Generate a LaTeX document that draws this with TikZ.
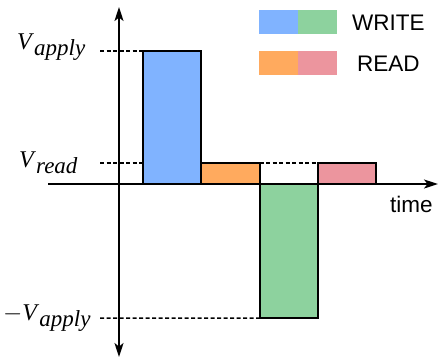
\documentclass[tikz,border=0pt]{standalone}
\usepackage{fontspec}
\setmainfont{Liberation Serif}
\setsansfont{Liberation Sans}
\usetikzlibrary{arrows.meta}
\definecolor{cblue}{HTML}{80B3FF}
\definecolor{cgreen}{HTML}{8DD29E}
\definecolor{corange}{HTML}{FFAA5E}
\definecolor{cpink}{HTML}{EC959E}
\newcommand\vlab[1]{\fontsize{24bp}{26bp}\selectfont\textit{V}\raisebox{-6.5bp}{\fontsize{23bp}{26bp}\selectfont\textit{#1}}}
\begin{document}
\begin{tikzpicture}[x=1bp,y=-1bp,
  pulse/.style={draw=black,line width=1.8bp,minimum width=58.3bp,anchor=north west,inner sep=0pt,outer sep=0pt},
  legbox/.style={minimum width=39bp,minimum height=24bp,anchor=north west,inner sep=0pt,outer sep=0pt},
  legtext/.style={font=\sffamily\fontsize{22.5bp}{27bp}\selectfont,anchor=west,inner sep=0pt},
  vlabel/.style={anchor=base west,inner sep=0pt},
  axis/.style={line width=1.8bp,{Stealth[length=14bp,width=9bp,inset=3.5bp]}-{Stealth[length=14bp,width=9bp,inset=3.5bp]}},
  haxis/.style={line width=1.8bp,-{Stealth[length=14bp,width=9bp,inset=3.5bp]}},
  level/.style={line width=1.5bp,dash pattern=on 4bp off 2.5bp}]
\useasboundingbox (0,0) rectangle (440,359);
% pulses
\node[pulse,fill=cblue,minimum height=133bp] (w1) at (143,51) {};
\node[pulse,fill=corange,minimum height=21bp] (r1) at (201.3,163) {};
\node[pulse,fill=cgreen,minimum height=134bp] (w2) at (259.6,184) {};
\node[pulse,fill=cpink,minimum height=21bp] (r2) at (318,163) {};
% axes
\coordinate (xl) at (48,184);
\coordinate (xr) at (438,184);
\coordinate (yb) at (119,357);
\coordinate (yt) at (119,7);
\draw[haxis] (xl) -- (xr);
\draw[axis] (yb) -- (yt);
\node[anchor=base west,inner sep=0pt,font=\sffamily\fontsize{22.5bp}{27bp}\selectfont] (time) at (390,212) {time};
% labels
\node[vlabel] (la) at (17,49) {\vlab{apply}};
\node[vlabel] (lr) at (19,167) {\vlab{read}};
\node[vlabel] (ln) at (3,320) {\fontsize{24bp}{26bp}\selectfont$-$\vlab{apply}};
% dashed levels
\coordinate (da) at (100,51);
\coordinate (dr) at (100,163);
\coordinate (dn) at (100,318);
\draw[level] (da) -- (w1.north west);
\draw[level] (dr) -- (w1.west |- dr);
\draw[level] (r1.north east) -- (r2.north west);
\draw[level] (dn) -- (w2.south west);
% legend
\node[legbox,fill=cblue] (lb) at (259,10) {};
\node[legbox,fill=cgreen] (lg) at (298,10) {};
\node[legtext] (lw) at (352,22.5) {WRITE};
\node[legbox,fill=corange] (lo) at (259,51) {};
\node[legbox,fill=cpink] (lp) at (298,51) {};
\node[legtext] (lrd) at (357,63.5) {READ};
\end{tikzpicture}
\end{document}
